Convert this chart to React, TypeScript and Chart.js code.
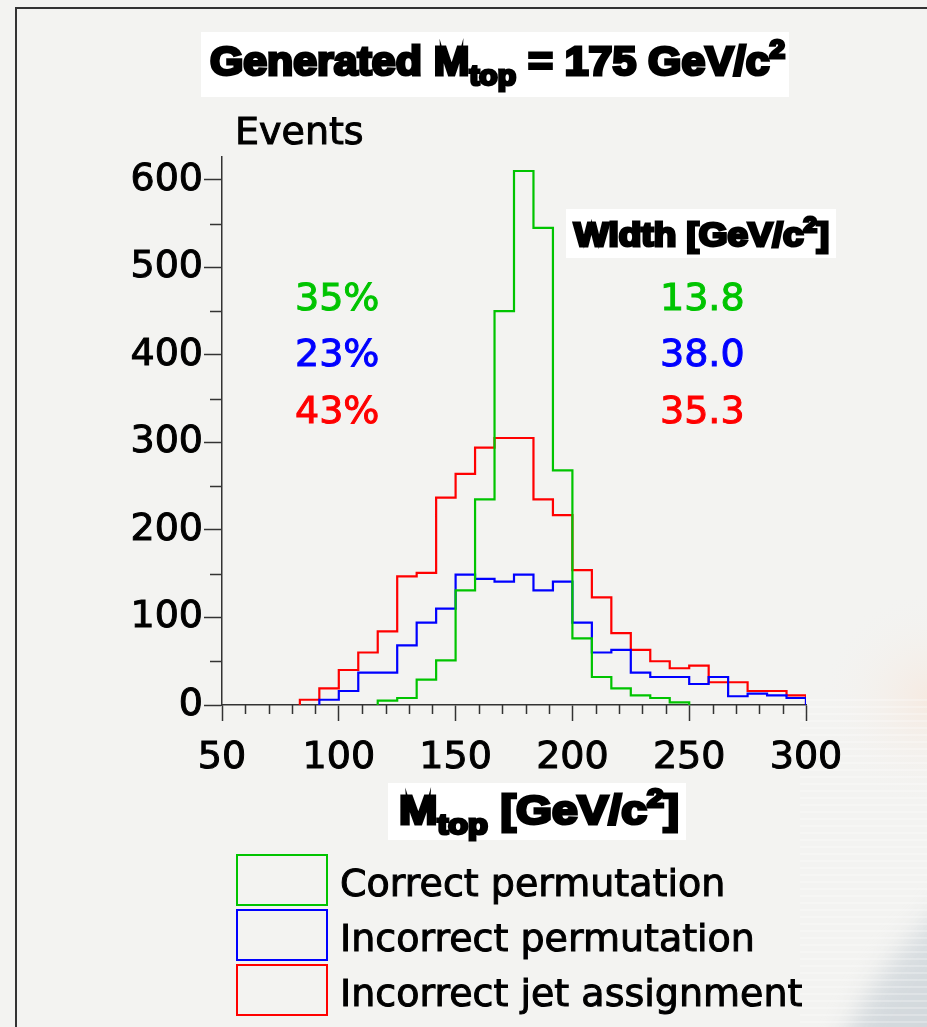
import React, { useEffect, useRef } from 'react';
import { Chart, registerables } from 'chart.js';

Chart.register(...registerables);

// ---------- data ----------
const X_MIN = 50;
const X_MAX = 300;
const N_BINS = 30;
const Y_MAX = 626;
const xTickValues = [50, 100, 150, 200, 250, 300];
const yTickValues = [0, 100, 200, 300, 400, 500, 600];

const seriesNames = ['Correct permutation', 'Incorrect permutation', 'Incorrect jet assignment'];
const seriesColors = ['#00c400', '#0000ff', '#ff0000'];
const fractionLabels = ['35%', '23%', '43%'];
const widthLabels = ['13.8', '38.0', '35.3'];

const titleText = 'Generated M_top = 175 GeV/c²';
const yAxisTitle = 'Events';
const xAxisTitle = 'M_top [GeV/c²]';
const statsHeader = 'Width [GeV/c²]';

// bin contents, 30 bins of 25/3 GeV from 50 to 300 (null = empty)
const correctPermutation = [
  null, null, null, null, null, null, null, null, 5, 8,
  29, 51, 131, 235, 450, 610, 545, 268, 76, 32,
  19, 11, 8, 3, null, null, null, null, null, null,
];
const incorrectPermutation = [
  null, null, null, null, null, 6, 16, 37, 37, 68,
  94, 110, 149, 144, 141, 149, 131, 141, 94, 60,
  63, 37, 32, 32, 24, 32, 10, 13, 11, 8,
];
const incorrectJetAssignment = [
  null, null, null, null, 6, 19, 40, 60, 84, 147,
  151, 237, 264, 294, 305, 305, 235, 217, 154, 123,
  82, 63, 50, 42, 45, 26, 26, 16, 16, 11,
];
const seriesValues = [correctPermutation, incorrectPermutation, incorrectJetAssignment];

// ---------- helpers ----------
const FONT = '"DejaVu Sans", sans-serif';
const FONT_TITLE = '"Liberation Sans", Arial, sans-serif';

const binEdges = Array.from({ length: N_BINS + 1 }, (_, k) => X_MIN + (k * (X_MAX - X_MIN)) / N_BINS);

function histPoints(values: (number | null)[]) {
  let a = -1;
  let b = -1;
  values.forEach((v, i) => {
    if (v !== null) {
      if (a < 0) a = i;
      b = i;
    }
  });
  const pts: { x: number; y: number }[] = [];
  if (a < 0) return pts;
  pts.push({ x: binEdges[a], y: 0 });
  for (let k = a; k <= b; k++) pts.push({ x: binEdges[k], y: values[k] as number });
  pts.push({ x: binEdges[b + 1], y: values[b] as number });
  pts.push({ x: binEdges[b + 1], y: 0 });
  return pts;
}

type Seg = { t: string; size: number; dy?: number };

function drawRich(ctx: CanvasRenderingContext2D, segs: Seg[], x0: number, x1: number, baseline: number) {
  let total = 0;
  const widths = segs.map((s) => {
    ctx.font = `bold ${s.size}px ${FONT_TITLE}`;
    const w = ctx.measureText(s.t).width;
    total += w;
    return w;
  });
  const sx = (x1 - x0) / total;
  ctx.save();
  ctx.translate(x0, baseline);
  ctx.scale(sx, 1);
  ctx.fillStyle = '#000';
  ctx.strokeStyle = '#000';
  ctx.lineWidth = 3;
  ctx.lineJoin = 'miter';
  ctx.textBaseline = 'alphabetic';
  ctx.textAlign = 'left';
  let x = 0;
  segs.forEach((s, i) => {
    ctx.font = `bold ${s.size}px ${FONT_TITLE}`;
    ctx.fillText(s.t, x, s.dy || 0);
    ctx.strokeText(s.t, x, s.dy || 0);
    x += widths[i];
  });
  ctx.restore();
}

function splitSub(text: string, size: number, subSize: number, supSize: number): Seg[] {
  const segs: Seg[] = [];
  const re = /(_top)|(²)/g;
  let last = 0;
  let m: RegExpExecArray | null;
  while ((m = re.exec(text))) {
    if (m.index > last) segs.push({ t: text.slice(last, m.index), size });
    if (m[1]) segs.push({ t: 'top', size: subSize, dy: size * 0.26 });
    else segs.push({ t: '2', size: supSize, dy: -size * 0.42 });
    last = m.index + m[0].length;
  }
  if (last < text.length) segs.push({ t: text.slice(last), size });
  return segs;
}

function boldText(ctx: CanvasRenderingContext2D, t: string, x: number, y: number, color: string) {
  ctx.fillStyle = color;
  ctx.strokeStyle = color;
  ctx.lineWidth = 1;
  ctx.fillText(t, x, y);
  ctx.strokeText(t, x, y);
}

const decorPlugin = {
  id: 'decor',
  beforeDraw(chart: any) {
    const ctx: CanvasRenderingContext2D = chart.ctx;
    const W = chart.width;
    const H = chart.height;
    ctx.save();
    ctx.fillStyle = '#f3f3f1';
    ctx.fillRect(0, 0, W, H);
    // faint peach tint on the right
    const g2 = ctx.createRadialGradient(930, 700, 5, 930, 700, 110);
    g2.addColorStop(0, 'rgba(248,228,214,0.55)');
    g2.addColorStop(1, 'rgba(243,243,241,0)');
    ctx.fillStyle = g2;
    ctx.fillRect(780, 560, W - 780, 280);
    // grey disc in the bottom-right corner
    ctx.save();
    ctx.filter = 'blur(12px)';
    const g = ctx.createLinearGradient(830, 840, 927, 1027);
    g.addColorStop(0, 'rgba(226,229,231,1)');
    g.addColorStop(1, 'rgba(210,216,220,1)');
    ctx.fillStyle = g;
    ctx.beginPath();
    ctx.arc(1200, 1200, 390, 0, Math.PI * 2);
    ctx.fill();
    ctx.restore();
    // faint horizontal stripes
    ctx.strokeStyle = 'rgba(255,255,255,0.25)';
    ctx.lineWidth = 2;
    ctx.beginPath();
    for (let y = 700; y < H; y += 7) {
      ctx.moveTo(800, y);
      ctx.lineTo(W, y);
    }
    ctx.stroke();
    // frame
    ctx.strokeStyle = '#333';
    ctx.lineWidth = 2;
    ctx.beginPath();
    ctx.moveTo(16, H);
    ctx.lineTo(16, 8);
    ctx.lineTo(W, 8);
    ctx.stroke();
    ctx.restore();
  },
  afterDraw(chart: any) {
    const ctx: CanvasRenderingContext2D = chart.ctx;
    const xs = chart.scales.x;
    const ys = chart.scales.y;
    const area = chart.chartArea;
    ctx.save();
    // minor ticks
    ctx.strokeStyle = '#333';
    ctx.lineWidth = 1.5;
    ctx.beginPath();
    for (let v = X_MIN; v <= X_MAX; v += 10) {
      if (v % 50 === 0) continue;
      const px = Math.round(xs.getPixelForValue(v)) + 0.5;
      ctx.moveTo(px, area.bottom);
      ctx.lineTo(px, area.bottom + 9);
    }
    for (let v = 50; v <= Y_MAX; v += 100) {
      const py = Math.round(ys.getPixelForValue(v)) + 0.5;
      ctx.moveTo(area.left, py);
      ctx.lineTo(area.left - 12, py);
    }
    ctx.stroke();

    // white boxes
    ctx.fillStyle = '#ffffff';
    ctx.fillRect(201, 32, 588, 65);
    ctx.fillRect(566, 209, 270, 49);
    ctx.fillRect(388, 783, 298, 57);

    drawRich(ctx, splitSub(titleText, 40, 28, 26), 210, 785, 75);
    drawRich(ctx, splitSub(statsHeader, 34, 24, 22), 574, 829, 246);
    drawRich(ctx, splitSub(xAxisTitle, 40, 28, 26), 399, 679, 824);

    ctx.font = `38px ${FONT}`;
    ctx.textBaseline = 'alphabetic';
    ctx.textAlign = 'left';
    boldText(ctx, yAxisTitle, 235, 144, '#000');

    const baselines = [310, 366, 423];
    seriesColors.forEach((c, i) => {
      boldText(ctx, fractionLabels[i], 295, baselines[i], c);
      boldText(ctx, widthLabels[i], 660, baselines[i], c);
    });

    // legend
    const boxTops = [855, 910, 965];
    const textBase = [896, 951, 1006];
    seriesNames.forEach((name, i) => {
      ctx.strokeStyle = seriesColors[i];
      ctx.lineWidth = 2;
      ctx.strokeRect(237, boxTops[i], 90, 50);
      ctx.font = `38px ${FONT}`;
      boldText(ctx, name, 340, textBase[i], '#000');
    });
    ctx.restore();
  },
};

export default function App() {
  const ref = useRef<HTMLCanvasElement | null>(null);
  useEffect(() => {
    if (!ref.current) return;
    const chart = new Chart(ref.current, {
      type: 'line',
      data: {
        datasets: seriesValues.map((vals, i) => ({
          label: seriesNames[i],
          data: histPoints(vals),
          borderColor: seriesColors[i],
          borderWidth: 2.2,
          pointRadius: 0,
          fill: false,
          stepped: true,
          tension: 0,
        })),
      },
      options: {
        animation: false,
        responsive: false,
        events: [],
        layout: { padding: { left: 0, right: 121, top: 157, bottom: 242 } },
        plugins: { legend: { display: false }, tooltip: { enabled: false }, title: { display: false } },
        scales: {
          x: {
            type: 'linear',
            min: X_MIN,
            max: X_MAX,
            afterBuildTicks: (s: any) => {
              s.ticks = xTickValues.map((v) => ({ value: v }));
            },
            afterFit: (s: any) => {
              s.height = 80;
            },
            grid: { drawOnChartArea: false, drawTicks: true, tickLength: 16, tickColor: '#333', tickWidth: 1.5 },
            border: { display: true, color: '#333', width: 1.5 },
            ticks: {
              autoSkip: false,
              maxRotation: 0,
              padding: 14,
              color: '#000',
              textStrokeColor: '#000',
              textStrokeWidth: 1,
              font: { family: FONT, size: 38 },
              callback: (v: any) => String(v),
            },
          },
          y: {
            type: 'linear',
            min: 0,
            max: Y_MAX,
            afterBuildTicks: (s: any) => {
              s.ticks = yTickValues.map((v) => ({ value: v }));
            },
            afterFit: (s: any) => {
              s.width = 222;
            },
            grid: { drawOnChartArea: false, drawTicks: true, tickLength: 18, tickColor: '#333', tickWidth: 1.5 },
            border: { display: true, color: '#333', width: 1.5 },
            ticks: {
              autoSkip: false,
              padding: 1,
              color: '#000',
              textStrokeColor: '#000',
              textStrokeWidth: 1,
              font: { family: FONT, size: 38 },
              callback: (v: any) => String(v),
            },
          },
        },
      },
      plugins: [decorPlugin],
    } as any);
    return () => chart.destroy();
  }, []);
  return (
    <div style={{ position: 'absolute', left: 0, top: 0, width: 927, height: 1027 }}>
      <canvas ref={ref} width={927} height={1027} style={{ display: 'block', width: 927, height: 1027 }} />
    </div>
  );
}
